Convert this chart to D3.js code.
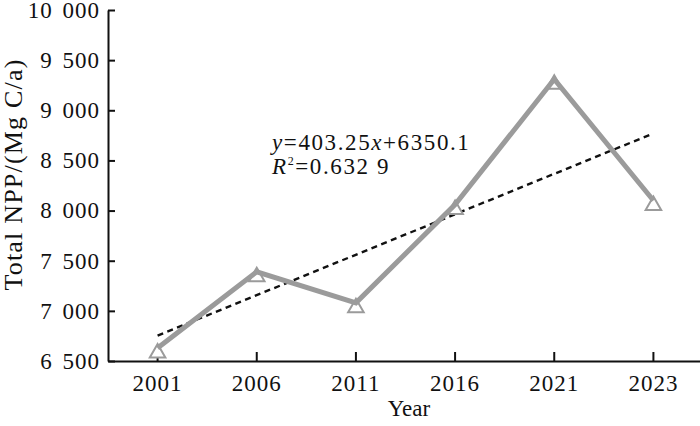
<!DOCTYPE html>
<html>
  <head>
    <meta charset="utf-8">
    <style>
      body { margin:0; background:#fff; }
      svg text {
        font-family: "Liberation Serif", "Times New Roman", serif !important;
        fill:#111;
      }
      .axis path, .axis line { stroke:#111; stroke-width:2px; }
      .axis text { font-size:23px; letter-spacing:1px; }
      .y.axis text { word-spacing:3px; }
    </style>
    <script src="https://d3js.org/d3.v7.min.js" charset="utf-8"></script>
  </head>
  <body>
    <script>
      // data
      const years = ['2001','2006','2011','2016','2021','2023']
      const npp = [6630, 7390, 7080, 8060, 9310, 8100]
      const yTicks = [6500, 7000, 7500, 8000, 8500, 9000, 9500, 10000]
      // linear fit printed on the chart, x = 1..6
      const fitSlope = 403.25
      const fitIntercept = 6350.1

      const W = 700, H = 426
      const m = {left:108, right:-3, top:10, bottom:65}

      const svg = d3.select('body').append('svg')
        .attr('width',W)
        .attr('height',H)

      const x = d3.scaleBand()
        .domain(years)
        .range([m.left, W-m.right])
        .padding(0)
      const y = d3.scaleLinear()
        .domain([6500, 10000])
        .range([H-m.bottom, m.top])

      const cx = d => x(d)+x.bandwidth()/2
      const fmt = v => d3.format(',')(v).replace(',', ' ')

      // axes with inward ticks
      svg.append('g').classed('x axis',true)
        .attr('transform',`translate(0,${H-m.bottom})`)
        .call(d3.axisBottom(x).tickSize(-9).tickSizeOuter(0).tickPadding(14))
      svg.append('g').classed('y axis',true)
        .attr('transform',`translate(${m.left},0)`)
        .call(d3.axisLeft(y).tickValues(yTicks).tickFormat(fmt).tickSize(-7).tickSizeOuter(0).tickPadding(8))
      svg.selectAll('.axis').attr('font-family',null).attr('font-size',null)
      svg.selectAll('.axis .domain').attr('stroke-width',2.2)

      // trend line
      const fit = [1, years.length].map(i => ({k:years[i-1], v:fitSlope*i+fitIntercept}))
      svg.append('line')
        .attr('x1',cx(fit[0].k)).attr('y1',y(fit[0].v))
        .attr('x2',cx(fit[1].k)).attr('y2',y(fit[1].v))
        .attr('stroke','#111')
        .attr('stroke-width',2.4)
        .attr('stroke-dasharray','6,4.5')

      // markers (hollow triangles), line on top
      svg.append('g').selectAll('path')
        .data(years)
        .join('path')
        .attr('d',d3.symbol(d3.symbolTriangle,105))
        .attr('transform',(d,i) => `translate(${cx(d)},${y(npp[i])+5})`)
        .attr('fill','#fff')
        .attr('stroke','#9b9b9b')
        .attr('stroke-width',2)

      svg.append('path')
        .datum(years)
        .attr('d',d3.line().x(d => cx(d)).y((d,i) => y(npp[i])))
        .attr('fill','none')
        .attr('stroke','#9b9b9b')
        .attr('stroke-width',5)
        .attr('stroke-linejoin','miter')

      // equation
      const eq = svg.append('text')
        .attr('x',272).attr('y',150)
        .style('font-size','23px')
        .style('letter-spacing','1.6px')
      eq.append('tspan').style('font-style','italic').text('y')
      eq.append('tspan').text('=403.25')
      eq.append('tspan').style('font-style','italic').text('x')
      eq.append('tspan').text('+6350.1')

      const r2 = svg.append('text')
        .attr('x',272).attr('y',174)
        .style('font-size','23px')
        .style('letter-spacing','1.6px')
      r2.append('tspan').style('font-style','italic').text('R')
      r2.append('tspan').attr('dy',-9).style('font-size','12px').text('2')
      r2.append('tspan').attr('dy',9).text('=0.632 9')

      // axis titles
      svg.append('text')
        .attr('transform',`translate(21.5,${(m.top+H-m.bottom)/2 - 11}) rotate(-90)`)
        .attr('text-anchor','middle')
        .style('font-size','26px')
        .style('letter-spacing','1.2px')
        .text('Total NPP/(Mg C/a)')
      svg.append('text')
        .attr('x',409).attr('y',416)
        .attr('text-anchor','middle')
        .style('font-size','23px')
        .text('Year')
    </script>
  </body>
</html>
